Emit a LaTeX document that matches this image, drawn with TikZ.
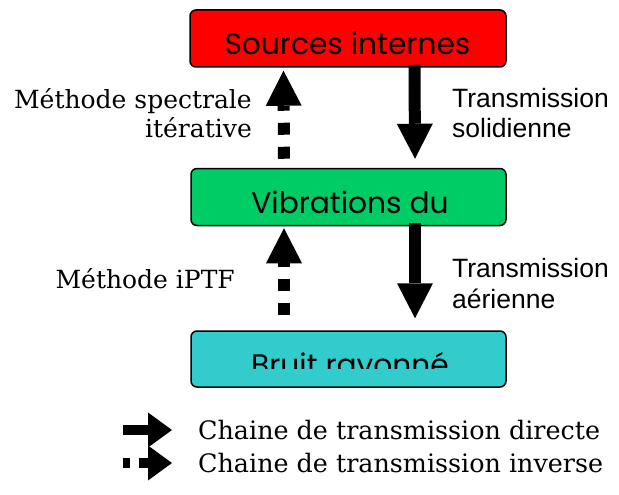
\documentclass[tikz,border=0pt]{standalone}
\usepackage{fontspec}
\setmainfont{DejaVu Serif}
\newfontfamily\boxfont{Poppins}
\newfontfamily\lblfont{Liberation Sans}
\usetikzlibrary{arrows.meta}
\definecolor{boxred}{HTML}{FF0000}
\definecolor{boxgreen}{HTML}{00CC66}
\definecolor{boxcyan}{HTML}{33CCCC}
\begin{document}
\begin{tikzpicture}[x=1pt,y=-1pt,
  stage/.style={draw=black,line width=1.5pt,rounded corners=6pt,inner sep=0pt,
    minimum width=315pt,minimum height=57pt},
  boxtext/.style={font=\boxfont\fontsize{29.7}{31}\selectfont,inner sep=0pt,anchor=base},
  serlbl/.style={font=\fontsize{25}{29}\selectfont,inner sep=0pt,align=right},
  sanlbl/.style={font=\lblfont\fontsize{26.5}{31}\selectfont,inner sep=0pt,align=left},
  legtext/.style={font=\fontsize{25.4}{30}\selectfont,inner sep=0pt,anchor=base west},
  direct/.style={line width=12pt,-{Triangle[width=36pt,length=35pt,line width=0pt]}},
  inverse/.style={direct,dash pattern=on 12pt off 12pt},
  legdirect/.style={line width=10pt,-{Triangle[width=35pt,length=24pt,line width=0pt]}},
]
\useasboundingbox (0,0) rectangle (619,495);
% boxes
\node[stage,fill=boxred,minimum width=316pt] (src) at (348,38.5) {};
\node[stage,fill=boxgreen] (vib) at (348.5,197) {};
\node[stage,fill=boxcyan,minimum height=56pt] (bru) at (348.5,359) {};
% box texts (clipped as in the reference)
\begin{scope}
  \clip (190,10) rectangle (506,56);
  \node[boxtext] (srct) at (347.5,55) {Sources internes};
\end{scope}
\begin{scope}
  \clip (190,168) rectangle (506,213);
  \node[boxtext] (vibt) at (350,213) {Vibrations du};
\end{scope}
\begin{scope}
  \clip (190,331) rectangle (506,368);
  \node[boxtext] (brut) at (350,375) {Bruit rayonné};
\end{scope}
% arrows
\draw[inverse] ([xshift=-64.5pt,yshift=9pt]vib.north) -- ([xshift=-64.5pt,yshift=-3pt]src.south);
\draw[direct] ([xshift=66.5pt,yshift=3pt]src.south) -- ([xshift=66.5pt,yshift=9pt]vib.north);
\draw[inverse] ([xshift=-64.5pt,yshift=15pt]bru.north) -- ([xshift=-64.5pt,yshift=-2pt]vib.south);
\draw[direct] ([xshift=66.5pt,yshift=3pt]vib.south) -- ([xshift=66.5pt,yshift=12pt]bru.north);
% labels
\node[serlbl,anchor=base east] (l1) at (252,137) {Méthode spectrale\\itérative};
\node[serlbl,anchor=base east] (l2) at (235,288) {Méthode iPTF};
\node[sanlbl,anchor=base west] (r1) at (452,138) {Transmission\\solidienne};
\node[sanlbl,anchor=base west] (r2) at (452,308) {Transmission\\aérienne};
% legend
\coordinate (d0) at (123,430);
\coordinate (d1) at (172,430);
\coordinate (i0) at (123,463);
\coordinate (i1) at (172,463);
\draw[legdirect] (d0) -- (d1);
\draw[legdirect,dash pattern=on 7pt off 9pt on 30pt] (i0) -- (i1);
\node[legtext] (t1) at (198,439) {Chaine de transmission directe};
\node[legtext] (t2) at (198,472) {Chaine de transmission inverse};
\end{tikzpicture}
\end{document}
